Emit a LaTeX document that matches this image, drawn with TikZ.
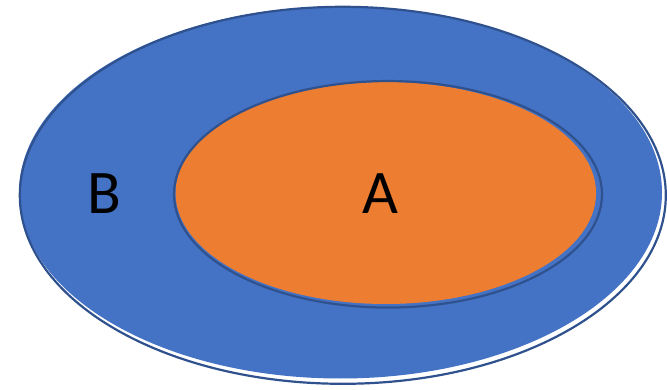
\documentclass[tikz,border=0pt]{standalone}
\usepackage{fontspec}
\setmainfont{Carlito}
\usetikzlibrary{shapes.geometric}
\definecolor{setblue}{HTML}{4472C4}
\definecolor{setorange}{HTML}{ED7D31}
\definecolor{setedge}{HTML}{2F528F}

\begin{document}
\begin{tikzpicture}[x=1pt, y=-1pt,
  oval/.style={ellipse, inner sep=0pt, outer sep=0pt},
  rim/.style={oval, draw=setedge, line width=2.2pt},
  setname/.style={font=\fontsize{62}{62}\selectfont, text=black}]
  \useasboundingbox (0,0) rectangle (667,390);

  % set B: fill, then its outline slightly offset
  \node[oval, fill=setblue, minimum width=643pt, minimum height=372pt] (Bfill) at (340.5,192.5) {};
  \node[rim, minimum width=646pt, minimum height=377pt] (Bedge) at (342.8,195.3) {};

  % set A inside B
  \node[oval, fill=setorange, minimum width=420.5pt, minimum height=222pt] (Afill) at (385.8,193) {};
  \node[rim, minimum width=428pt, minimum height=226.5pt] (Aedge) at (388,194.3) {};

  % labels
  \node[setname] (Blabel) at (104,194) {B};
  \node[setname] (Alabel) at (380,194) {A};
\end{tikzpicture}
\end{document}
